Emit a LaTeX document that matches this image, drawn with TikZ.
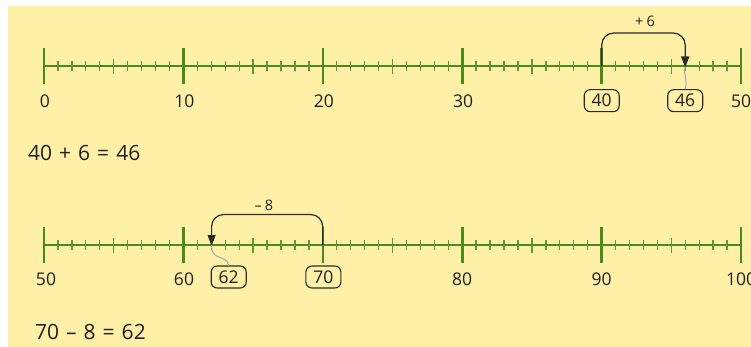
\documentclass[tikz,border=0pt]{standalone}
\usepackage{fontspec}
\setmainfont{Open Sans}
\usetikzlibrary{arrows.meta}
\definecolor{bgyellow}{HTML}{FFF0A8}
\definecolor{axisgreen}{HTML}{4A8B1C}
\definecolor{minorgreen}{HTML}{5E9A2E}
\definecolor{arcdark}{HTML}{2A2A2A}
\definecolor{txt}{HTML}{231F20}
\definecolor{wiregray}{HTML}{A8A8A8}
\newcommand\opgap{\hspace{7pt}}
\begin{document}
\begin{tikzpicture}[x=1pt,y=-1pt,
  axis/.style={draw=axisgreen,line width=2pt},
  majortick/.style={draw=axisgreen,line width=2.6pt},
  midtick/.style={draw=minorgreen,line width=1.5pt},
  minortick/.style={draw=minorgreen,line width=1.3pt},
  numlabel/.style={text=txt,font=\fontsize{17.5}{20}\selectfont,inner sep=0pt},
  numbox/.style={draw=arcdark,line width=1.1pt,rounded corners=6pt,text=txt,
    font=\fontsize{17.5}{20}\selectfont,minimum width=35pt,minimum height=22pt,inner sep=0pt},
  jumplabel/.style={text=txt,font=\fontsize{14.5}{16}\selectfont,inner sep=0pt},
  eqn/.style={text=txt,font=\fontsize{21}{24}\selectfont,inner sep=0pt,anchor=west},
  jump/.style={draw=arcdark,line width=1.2pt,rounded corners=12pt,-{Triangle[length=11pt,width=8pt]}},
  wire/.style={draw=wiregray,line width=1pt}]
\useasboundingbox (0,0) rectangle (751,347);
\fill[bgyellow] (8,6) rectangle (751,347);

% ---------- number line 1 ----------
\def\ya{66.5}
\draw[axis] (44,\ya) -- (741,\ya);
\foreach \i in {0,...,50}{\draw[minortick] ({44+13.94*\i},\ya-5) -- ({44+13.94*\i},\ya+5);}
\foreach \i in {5,15,...,45}{\draw[midtick] ({44+13.94*\i},\ya-7.5) -- ({44+13.94*\i},\ya+7.5);}
\foreach \i in {0,10,...,50}{\draw[majortick] ({44+13.94*\i},\ya-18) -- ({44+13.94*\i},\ya+18);}
\foreach \v in {0,10,20,30}{\node[numlabel] (la\v) at ({44+13.94*\v+1},101.5) {\v};}
\node[numlabel] (la50) at (741,101.5) {50};
\node[numbox] (b40) at (601.7,100.7) {40};
\node[numbox] (b46) at (685.2,100.7) {46};
\coordinate (p40) at (601.7,\ya);
\coordinate (p46) at (685.2,\ya);
\coordinate (t40) at (601.7,33);
\coordinate (t46) at (685.2,33);
\draw[jump] (p40) -- (t40) -- (t46) -- ([yshift=-1pt]p46);
\node[jumplabel] (j1) at (645,21) {+\hspace{3pt}6};
\draw[wire] (p46) .. controls (683,75) and (688,80) .. (b46.north);

\node[eqn] (eq1) at (28,153) {40\opgap+\opgap6\opgap=\opgap46};

% ---------- number line 2 ----------
\def\yb{245}
\draw[axis] (44,\yb) -- (741,\yb);
\foreach \i in {0,...,50}{\draw[minortick] ({44+13.94*\i},\yb-5) -- ({44+13.94*\i},\yb+5);}
\foreach \i in {5,15,...,45}{\draw[midtick] ({44+13.94*\i},\yb-7.5) -- ({44+13.94*\i},\yb+7.5);}
\foreach \i in {0,10,...,50}{\draw[majortick] ({44+13.94*\i},\yb-18) -- ({44+13.94*\i},\yb+18);}
\node[numlabel] (lb50) at (46,279.5) {50};
\node[numlabel] (lb60) at (184,279.5) {60};
\node[numlabel] (lb80) at (462,279.5) {80};
\node[numlabel] (lb90) at (601.5,279.5) {90};
\node[numlabel] (lb100) at (741,279.5) {100};
\node[numbox] (b62) at (228.7,277) {62};
\node[numbox] (b70) at (323.4,277) {70};
\coordinate (p70) at (322.7,\yb);
\coordinate (p62) at (211.6,\yb);
\coordinate (t70) at (322.7,214.5);
\coordinate (t62) at (211.6,214.5);
\draw[jump] (p70) -- (t70) -- (t62) -- ([yshift=-1pt]p62);
\node[jumplabel] (j2) at (264,205) {–\hspace{3pt}8};
\draw[wire] (p62) .. controls (211,262) and (227,254) .. (b62.north);

\node[eqn] (eq2) at (35,332) {70\opgap–\opgap8\opgap=\opgap62};
\end{tikzpicture}
\end{document}
